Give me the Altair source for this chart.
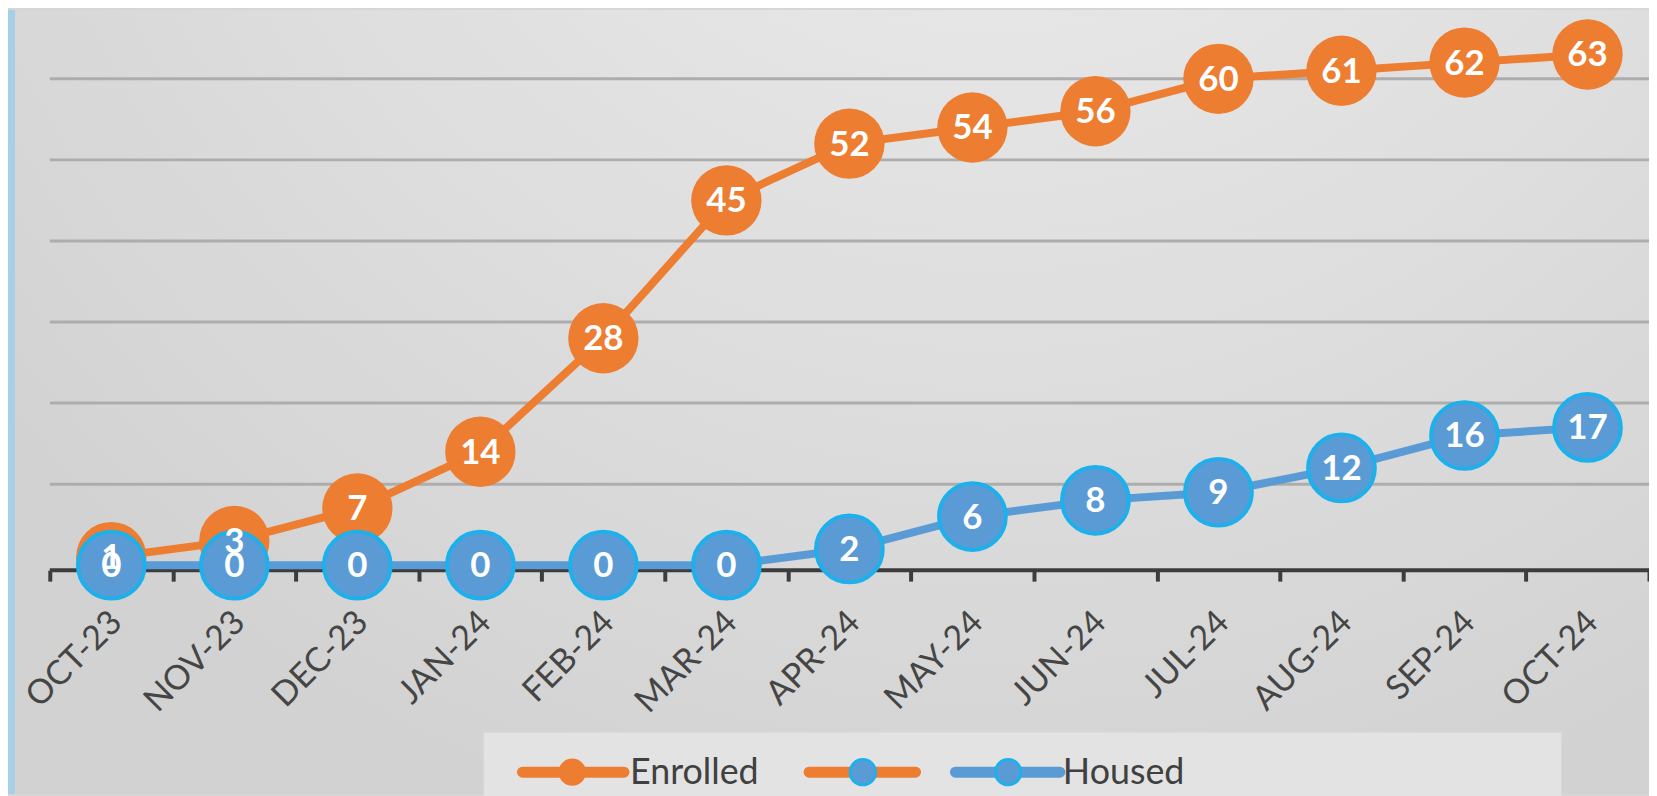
import altair as alt
import pandas as pd

months = ["OCT-23", "NOV-23", "DEC-23", "JAN-24", "FEB-24", "MAR-24", "APR-24",
          "MAY-24", "JUN-24", "JUL-24", "AUG-24", "SEP-24", "OCT-24"]
enrolled = [1, 3, 7, 14, 28, 45, 52, 54, 56, 60, 61, 62, 63]
housed = [0, 0, 0, 0, 0, 0, 2, 6, 8, 9, 12, 16, 17]
grid_values = [10, 20, 30, 40, 50, 60]
baseline_value = [0]
legend_labels = ["Enrolled", "", "Housed"]

ORANGE = "#ED7D31"
BLUE = "#5B9BD5"
CYAN = "#1DB0EA"
FONT = "Lato"

W, H = 1607, 558

df = pd.DataFrame({"month": months, "Enrolled": enrolled, "Housed": housed})
grid_df = pd.DataFrame({"v": grid_values})
base_df = pd.DataFrame({"v": baseline_value})
one = pd.DataFrame({"a": [1]})

yscale = alt.Scale(domain=[0, 68.5], nice=False, zero=True)
xenc = alt.X("month:N", sort=months, bandPosition=0.5,
             scale=alt.Scale(type="band", paddingInner=0, paddingOuter=0),
             axis=alt.Axis(title=None, domain=False, grid=False, ticks=True,
                           tickBand="extent", tickSize=11, tickWidth=4,
                           tickColor="#3c3c3c", offset=5, zindex=1,
                           labelAngle=-45, labelAlign="right",
                           labelBaseline="middle", labelPadding=36,
                           labelOffset=5, labelFont=FONT, labelFontSize=34,
                           labelColor="#454545"))

bg = alt.Chart(one).mark_rect(
    fill={"gradient": "radial", "x1": 0.6, "y1": 0.0, "r1": 0.0,
          "x2": 0.6, "y2": 0.0, "r2": 0.8,
          "stops": [{"offset": 0, "color": "#efefef"},
                    {"offset": 0.45, "color": "#e2e2e2"},
                    {"offset": 1, "color": "#d2d2d2"}]}
).encode(x=alt.value(-42), x2=alt.value(W), y=alt.value(0), y2=alt.value(H + 230))

strip = alt.Chart(one).mark_rect(color="#a6cfe8").encode(
    x=alt.value(-42), x2=alt.value(-35), y=alt.value(0), y2=alt.value(H + 230))

legend_box = alt.Chart(one).mark_rect(color="#e3e3e3").encode(
    x=alt.value(436), x2=alt.value(1519), y=alt.value(726), y2=alt.value(H + 232))

grid = alt.Chart(grid_df).mark_rule(color="#adadad", strokeWidth=3).encode(
    y=alt.Y("v:Q", scale=yscale, axis=None))

domain = alt.Chart(base_df).mark_rule(color="#3c3c3c", strokeWidth=4, yOffset=5).encode(
    y=alt.Y("v:Q", scale=yscale, axis=None))

base = alt.Chart(df).encode(x=xenc)

line_e = base.mark_line(color=ORANGE, strokeWidth=8).encode(
    y=alt.Y("Enrolled:Q", scale=yscale, axis=None))
pts_e = base.mark_circle(color=ORANGE, opacity=1, size=5000).encode(
    y=alt.Y("Enrolled:Q", scale=yscale, axis=None))
line_h = base.mark_line(color=BLUE, strokeWidth=8).encode(
    y=alt.Y("Housed:Q", scale=yscale, axis=None))
pts_h = base.mark_point(filled=True, fill=BLUE, stroke=CYAN, strokeWidth=4,
                        opacity=1, size=4500).encode(
    y=alt.Y("Housed:Q", scale=yscale, axis=None))
txt_e = base.mark_text(color="white", font=FONT, fontWeight="bold", fontSize=35,
                       baseline="middle", dy=1).encode(
    y=alt.Y("Enrolled:Q", scale=yscale, axis=None), text="Enrolled:Q")
txt_h = base.mark_text(color="white", font=FONT, fontWeight="bold", fontSize=35,
                       baseline="middle", dy=1).encode(
    y=alt.Y("Housed:Q", scale=yscale, axis=None), text="Housed:Q")

# legend
LY = 766
leg = []
entries = [(475, 577, 525, ORANGE, ORANGE, None, 583, legend_labels[0]),
           (763, 870, 817, ORANGE, BLUE, CYAN, None, legend_labels[1]),
           (910, 1015, 963, BLUE, BLUE, CYAN, 1018, legend_labels[2])]
for x1, x2, cx, lc, pc, sc, tx, lab in entries:
    leg.append(alt.Chart(one).mark_rule(color=lc, strokeWidth=11, strokeCap="round").encode(
        x=alt.value(x1), x2=alt.value(x2), y=alt.value(LY)))
    if sc:
        leg.append(alt.Chart(one).mark_point(filled=True, fill=pc, stroke=sc, strokeWidth=3,
                                             opacity=1, size=650).encode(
            x=alt.value(cx), y=alt.value(LY)))
    else:
        leg.append(alt.Chart(one).mark_circle(color=pc, opacity=1, size=750).encode(
            x=alt.value(cx), y=alt.value(LY)))
    if tx is not None and lab:
        leg.append(alt.Chart(one).mark_text(align="left", baseline="middle", font=FONT,
                                            fontSize=36, color="#404040", dy=1).encode(
            x=alt.value(tx), y=alt.value(LY), text=alt.value(lab)))

chart = alt.layer(bg, strip, legend_box, grid, domain, line_e, pts_e, line_h, pts_h,
                  txt_e, txt_h, *leg).properties(
    width=W, height=H,
    autosize=alt.AutoSizeParams(type="none"),
    padding={"left": 42, "top": 0, "right": 0, "bottom": 230},
).configure(background="#d6d6d6").configure_view(stroke=None)

chart.save("out.html", embed_options={"renderer": "svg", "actions": False})
